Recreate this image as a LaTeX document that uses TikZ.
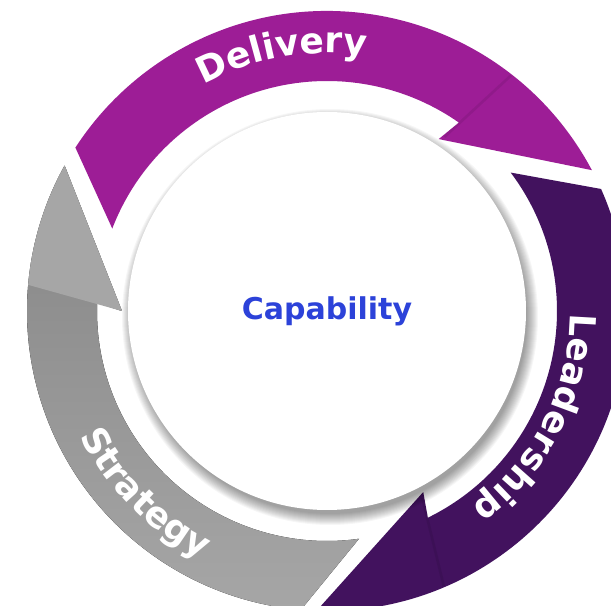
\documentclass[tikz,border=0pt]{standalone}
\usepackage{fontspec}
\setmainfont{DejaVu Sans}
\usetikzlibrary{decorations.text}
\definecolor{delivery}{HTML}{9D1D96}
\definecolor{leadership}{HTML}{42125E}
\definecolor{stratHead}{HTML}{A6A6A6}
\definecolor{stratTop}{HTML}{858585}
\definecolor{stratBottom}{HTML}{A6A6A6}
\definecolor{capBlue}{HTML}{2C42D9}
\newcommand\ringfont{\fontsize{27}{32}\selectfont\bfseries}
\tikzset{
  headline/.style={draw=black, draw opacity=0.08, line width=2pt},
  shadowdisc/.style={fill=black, fill opacity=0.035},
  ringtext/.style={decorate, decoration={text along path, text align=center,
      text color=white, text={|\ringfont|#1}}},
  hub/.style={circle, fill=white, minimum size=298.5pt, inner sep=0pt,
    text=capBlue, font=\fontsize{22.5}{27}\selectfont\bfseries}
}

\begin{document}
\begin{tikzpicture}[x=0.75pt, y=0.75pt]
\useasboundingbox (-327,-295) rectangle (284,311);
\clip (-327,-295) rectangle (284,311);
\fill[white] (-327,-295) rectangle (284,311);

% ---------------- Delivery ----------------
\fill[delivery] (28:300) arc[start angle=28, end angle=147, radius=300]
  -- (159:230) arc[start angle=159, end angle=55, radius=230] -- (57:205) -- cycle;
\draw[headline] (52:299) -- (56:210);

% ---------------- Leadership ----------------
\fill[leadership] (268:300) arc[start angle=268, end angle=384, radius=300]
  -- (37:230) arc[start angle=397, end angle=296, radius=230] -- (298:205) -- cycle;
\draw[headline] (293:299) -- (297:210);

% ---------------- Strategy ----------------
\fill[top color=stratTop, bottom color=stratBottom] (151:300)
  arc[start angle=151, end angle=265, radius=300]
  -- (278:230) arc[start angle=278, end angle=178, radius=230] -- (180:205) -- cycle;
\fill[stratHead] (151:300) arc[start angle=151, end angle=175, radius=300]
  -- (180:205) -- cycle;

% ---------------- Labels on the ring ----------------
\path[ringtext=Delivery] (160:258) arc[start angle=160, end angle=40, radius=258];
\path[ringtext=Leadership] (33:243) arc[start angle=33, end angle=-87, radius=243];
\path[ringtext=Strategy] (165:277) arc[start angle=165, end angle=285, radius=277];

% ---------------- Hub, with its shadow ----------------
\foreach \r in {197,198,...,208}
  \fill[shadowdisc] (3,-6) circle[radius=\r];
\node[hub] (hub) at (0,0) {Capability};

\end{tikzpicture}
\end{document}
